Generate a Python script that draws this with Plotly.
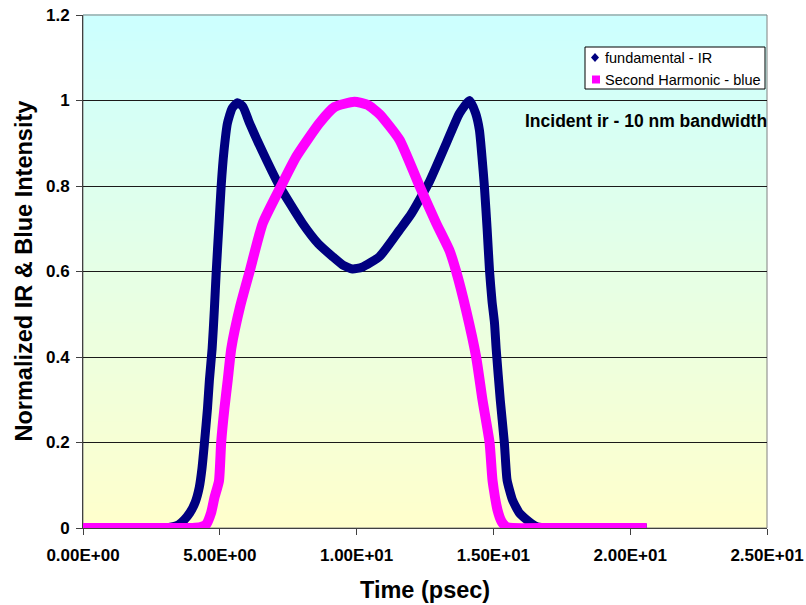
import plotly.graph_objects as go

# ---- data ----
fund_t = [0, 1, 2, 3, 3.2, 3.5, 3.7, 3.9, 4.1, 4.25, 4.35, 4.44, 4.55, 4.62, 4.72, 4.8, 4.87, 4.96,
          5.05, 5.15, 5.28, 5.45, 5.65, 5.85, 6.09, 6.6, 7.18, 8.02, 8.6, 9.12, 9.5, 9.85, 10.2,
          10.84, 11.57, 12.0, 12.66, 13.28, 13.76, 14.13, 14.35, 14.49, 14.58, 14.67, 14.77, 14.86,
          14.95, 15.04, 15.1, 15.25, 15.4, 15.5, 15.7, 15.95, 16.2, 16.4, 16.6, 17, 18, 19, 20, 20.6]
fund_v = [0, 0, 0, 0, 0.002, 0.008, 0.019, 0.035, 0.06, 0.095, 0.14, 0.2, 0.28, 0.346, 0.42, 0.51,
          0.6, 0.7, 0.8, 0.88, 0.947, 0.982, 0.995, 0.985, 0.947, 0.875, 0.8, 0.713, 0.665, 0.635,
          0.615, 0.606, 0.61, 0.635, 0.697, 0.735, 0.81, 0.9, 0.97, 1.0, 0.97, 0.93, 0.87, 0.8,
          0.7, 0.6, 0.53, 0.48, 0.42, 0.3, 0.2, 0.112, 0.065, 0.035, 0.02, 0.01, 0.003, 0, 0, 0, 0, 0]

sh_t = [0, 1, 2, 3, 4, 4.3, 4.5, 4.68, 4.8, 4.97, 5.05, 5.17, 5.29, 5.42, 5.75, 6.09, 6.57, 7.24,
        7.79, 8.64, 9.2, 9.92, 10.4, 10.84, 11.57, 12.3, 12.91, 13.39, 13.64, 14.0, 14.37, 14.6,
        14.86, 14.97, 15.15, 15.3, 15.47, 15.7, 17, 18, 19, 20, 20.6]
sh_v = [0, 0, 0, 0, 0, 0.002, 0.008, 0.035, 0.07, 0.11, 0.2, 0.28, 0.346, 0.42, 0.52, 0.6, 0.713,
        0.8, 0.868, 0.947, 0.985, 0.997, 0.99, 0.968, 0.908, 0.8, 0.713, 0.65, 0.6, 0.51, 0.4, 0.3,
        0.2, 0.11, 0.042, 0.015, 0.003, 0, 0, 0, 0, 0, 0]

series_names = ["fundamental - IR", "Second Harmonic - blue"]
x_tickvals = [0, 5, 10, 15, 20, 25]
x_ticktext = ["0.00E+00", "5.00E+00", "1.00E+01", "1.50E+01", "2.00E+01", "2.50E+01"]
y_tickvals = [0, 0.2, 0.4, 0.6, 0.8, 1.0, 1.2]
y_ticktext = ["0", "0.2", "0.4", "0.6", "0.8", "1", "1.2"]

NAVY = "#000080"
MAGENTA = "#FF00FF"
FONT = "Liberation Sans, Arial, sans-serif"

# plot-area geometry (pixels) used to place the legend box in paper units
L, R, T, B = 83, 39, 15, 77
PW, PH = 806 - L - R, 605 - T - B


def px_x(px):
    return (px - L) / PW


def px_y(py):
    return (605 - B - py) / PH


fig = go.Figure()
fig.add_trace(go.Scatter(x=fund_t, y=fund_v, mode="lines", name=series_names[0],
                         line=dict(color=NAVY, width=9, shape="spline", smoothing=0.5),
                         showlegend=False, hoverinfo="skip"))
fig.add_trace(go.Scatter(x=sh_t, y=sh_v, mode="lines", name=series_names[1],
                         line=dict(color=MAGENTA, width=10, shape="spline", smoothing=0.5),
                         showlegend=False, hoverinfo="skip"))

# vertical gradient background (cyan top -> light yellow bottom)
shapes = []
N = 120
top = (204, 255, 255)
bot = (255, 255, 204)
for i in range(N):
    f = (i + 0.5) / N  # 0 bottom -> 1 top
    c = tuple(round(bot[k] + (top[k] - bot[k]) * f) for k in range(3))
    shapes.append(dict(type="rect", xref="paper", yref="paper", x0=0, x1=1,
                       y0=i / N, y1=(i + 1) / N + 0.002, line=dict(width=0),
                       fillcolor="rgb(%d,%d,%d)" % c, layer="below"))
shapes.append(dict(type="rect", xref="paper", yref="paper", x0=0, x1=1, y0=0, y1=1,
                   line=dict(color="#808080", width=1), fillcolor="rgba(0,0,0,0)", layer="below"))

# custom legend box (Excel style)
shapes.append(dict(type="rect", xref="paper", yref="paper", x0=px_x(585), x1=px_x(765),
                   y0=px_y(89), y1=px_y(47), line=dict(color="black", width=1),
                   fillcolor="white", layer="above"))
shapes.append(dict(type="path", xref="paper", yref="paper", xsizemode="pixel", ysizemode="pixel",
                   xanchor=px_x(595), yanchor=px_y(57.5),
                   path="M 0 4.5 L 4 0 L 0 -4.5 L -4 0 Z", line=dict(width=0),
                   fillcolor=NAVY, layer="above"))
shapes.append(dict(type="rect", xref="paper", yref="paper", xsizemode="pixel", ysizemode="pixel",
                   xanchor=px_x(596), yanchor=px_y(79.5), x0=-4, x1=4, y0=-4, y1=4,
                   line=dict(width=0), fillcolor=MAGENTA, layer="above"))

annotations = [
    dict(text=series_names[0], xref="paper", yref="paper", x=px_x(603), y=px_y(58),
         xanchor="left", yanchor="middle", showarrow=False,
         font=dict(family=FONT, size=14.5, color="black")),
    dict(text=series_names[1], xref="paper", yref="paper", x=px_x(603), y=px_y(79.5),
         xanchor="left", yanchor="middle", showarrow=False,
         font=dict(family=FONT, size=14.5, color="black")),
    dict(text="Incident ir - 10 nm bandwidth", xref="paper", yref="paper",
         x=0.823, y=0.793, xanchor="center", yanchor="middle", showarrow=False,
         font=dict(family=FONT, size=17.5, color="black", weight="bold")),
    dict(text="Time (psec)", xref="paper", yref="paper", x=0.5, y=0,
         xanchor="center", yanchor="middle", yshift=-62, showarrow=False,
         font=dict(family=FONT, size=23.5, color="black", weight="bold")),
    dict(text="Normalized IR & Blue Intensity", xref="paper", yref="paper", x=0, y=0.5,
         xanchor="center", yanchor="middle", xshift=-60, textangle=-90, showarrow=False,
         font=dict(family=FONT, size=23.5, color="black", weight="bold")),
]

fig.update_layout(
    width=806, height=605,
    margin=dict(l=L, r=R, t=T, b=B),
    paper_bgcolor="white",
    plot_bgcolor="rgba(0,0,0,0)",
    shapes=shapes,
    annotations=annotations,
    font=dict(family=FONT, color="black"),
    showlegend=False,
    xaxis=dict(range=[0, 25], tickvals=x_tickvals, ticktext=x_ticktext, automargin=False,
               showgrid=False, zeroline=False, showline=True, linecolor="#404040", linewidth=1,
               ticks="outside", ticklen=6, tickcolor="#404040", ticklabelstandoff=6,
               tickfont=dict(family=FONT, size=17, color="black", weight="bold")),
    yaxis=dict(range=[0, 1.2], tickvals=y_tickvals, ticktext=y_ticktext, automargin=False,
               showgrid=True, gridcolor="#1a1a1a", gridwidth=1, zeroline=False,
               showline=True, linecolor="#404040", linewidth=1,
               ticks="outside", ticklen=6, tickcolor="#404040", ticklabelstandoff=3,
               tickfont=dict(family=FONT, size=17, color="black", weight="bold")),
)

fig.write_html("out.html")
